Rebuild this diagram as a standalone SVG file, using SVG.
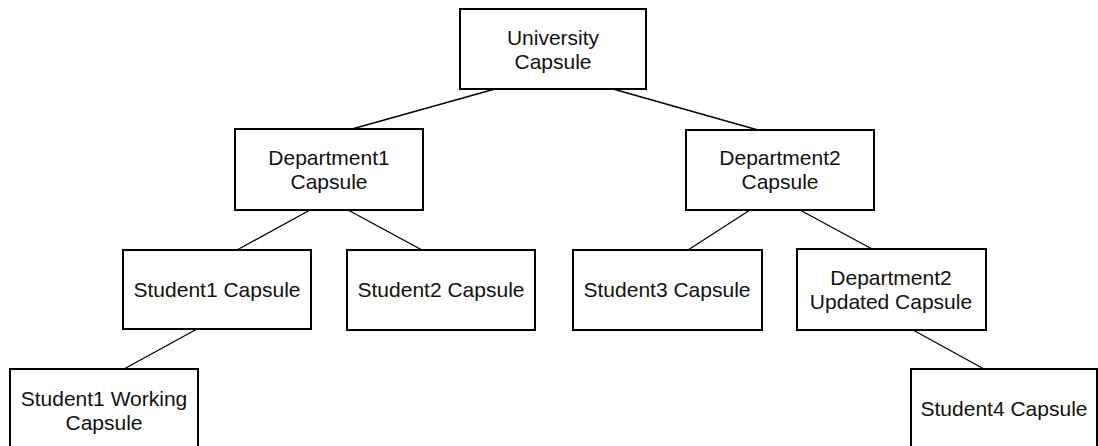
<svg xmlns="http://www.w3.org/2000/svg" width="1098" height="446" viewBox="0 0 1098 446">
<style>
.box{fill:#fff;stroke:#000;stroke-width:2}
.t{font-family:"Liberation Sans",Arial,sans-serif;font-size:21px;fill:#111;text-anchor:middle}
.c line{stroke:#000;stroke-width:1.3}
</style>
<rect width="1098" height="446" fill="#fff"/>
<g class="c" id="connectors">
<line x1="495" y1="89" x2="352" y2="129"/>
<line x1="613" y1="89" x2="758" y2="130"/>
<line x1="310" y1="210" x2="237" y2="250"/>
<line x1="348" y1="210" x2="422" y2="250"/>
<line x1="750" y1="210" x2="688" y2="250"/>
<line x1="800" y1="210" x2="872" y2="249"/>
<line x1="197" y1="329" x2="124" y2="369"/>
<line x1="913" y1="330" x2="984" y2="369"/>
</g>
<g id="university"><rect class="box" x="460" y="9" width="186" height="80"/><text class="t" x="553" y="45">University</text><text class="t" x="553" y="69">Capsule</text></g>
<g id="dept1"><rect class="box" x="235" y="129" width="188" height="81"/><text class="t" x="329" y="165">Department1</text><text class="t" x="329" y="189">Capsule</text></g>
<g id="dept2"><rect class="box" x="686" y="130" width="188" height="80"/><text class="t" x="780" y="165">Department2</text><text class="t" x="780" y="189">Capsule</text></g>
<g id="student1"><rect class="box" x="123" y="250" width="188" height="79"/><text class="t" x="217" y="297">Student1 Capsule</text></g>
<g id="student2"><rect class="box" x="347" y="250" width="188" height="80"/><text class="t" x="441" y="297">Student2 Capsule</text></g>
<g id="student3"><rect class="box" x="573" y="250" width="189" height="80"/><text class="t" x="667" y="297">Student3 Capsule</text></g>
<g id="dept2updated"><rect class="box" x="797" y="249" width="189" height="81"/><text class="t" x="891" y="285">Department2</text><text class="t" x="891" y="309">Updated Capsule</text></g>
<g id="student1working"><rect class="box" x="10" y="369" width="188" height="80"/><text class="t" x="104" y="406">Student1 Working</text><text class="t" x="104" y="430">Capsule</text></g>
<g id="student4"><rect class="box" x="911" y="369" width="186" height="80"/><text class="t" x="1004" y="416">Student4 Capsule</text></g>
</svg>
